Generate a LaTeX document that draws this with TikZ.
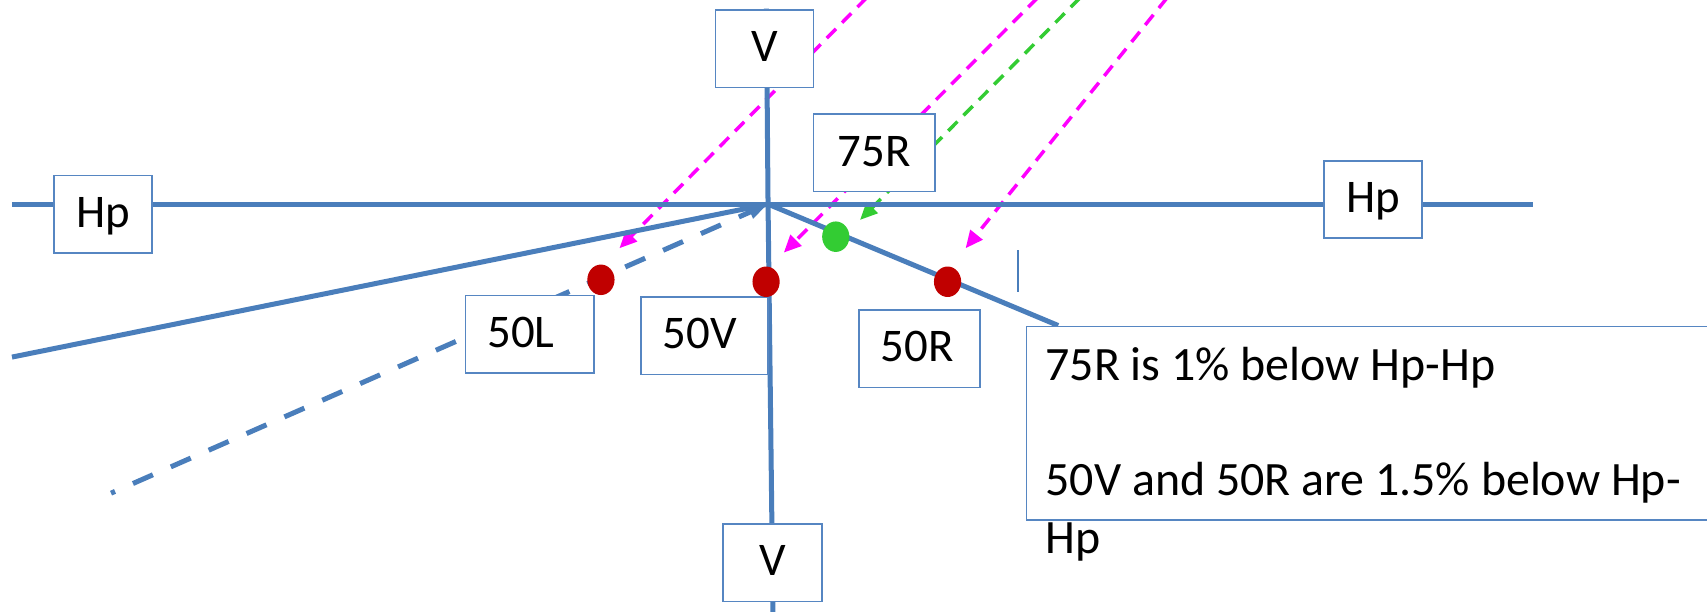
\documentclass[tikz,border=0pt]{standalone}
\usepackage{fontspec}
\setmainfont{Carlito}
\usetikzlibrary{arrows.meta,shapes.geometric}
\definecolor{axisblue}{HTML}{4A7EBB}
\definecolor{boxblue}{HTML}{5686C2}
\definecolor{raymag}{HTML}{FF00FF}
\definecolor{raygreen}{HTML}{33CC33}
\definecolor{dotred}{HTML}{C00000}
\tikzset{
  lbl/.style={draw=boxblue, line width=0.8pt, fill=white, minimum height=35.5pt,
    inner sep=0pt, text height=14pt, text depth=2pt, font=\fontsize{21.5}{26}\selectfont},
  lblleft/.style={lbl, text width=#1, align=left, inner xsep=10pt},
  axisline/.style={draw=axisblue, line width=2.3pt},
  blueDashed/.style={draw=axisblue, line width=2.3pt, dash pattern=on 10pt off 9pt,
    dash phase=8pt, -{Triangle[length=9pt,width=6pt]}},
  ray/.style={line width=1.6pt, dash pattern=on 6pt off 4pt,
    -{Triangle[length=8pt,width=7pt]}},
  dot/.style={ellipse, minimum width=12.5pt, minimum height=14pt, inner sep=0pt},
  notetext/.style={anchor=base west, inner sep=0pt, font=\fontsize{22}{26.5}\selectfont}
}
\begin{document}
\begin{tikzpicture}[x=0.5pt,y=-0.5pt]
\useasboundingbox (0,0) rectangle (1568,564);

% reference points of the axes
\coordinate (C) at (705.5,187.5);
\coordinate (hl) at (11,187.5);
\coordinate (hr) at (1408,187.5);
\coordinate (vt) at (704,8);
\coordinate (vb) at (710,562);
\coordinate (lsol) at (11,328);
\coordinate (ldash) at (102,453);
\coordinate (rend) at (972,299);
\coordinate (tickA) at (935,230);
\coordinate (tickB) at (935,268);

% incoming rays
\coordinate (m1s) at (796,-2);
\coordinate (m1e) at (569,228);
\coordinate (m2s) at (953,-2);
\coordinate (m2e) at (720,232);
\coordinate (g1s) at (992,-2);
\coordinate (g1e) at (790,202);
\coordinate (m3s) at (1072,-2);
\coordinate (m3e) at (887,228);

\draw[ray, raymag] (m1s) -- (m1e);
\draw[ray, raymag] (m2s) -- (m2e);
\draw[ray, raygreen] (g1s) -- (g1e);
\draw[ray, raymag] (m3s) -- (m3e);

% axes and cut-off lines
\draw[axisline] (hl) -- (hr);
\draw[axisline] (vt) -- (C) -- (vb);
\draw[axisline] (lsol) -- (C);
\draw[axisline] (C) -- (rend);
\draw[blueDashed] (ldash) -- (C);
\draw[draw=axisblue, line width=1pt] (tickA) -- (tickB);

% labels
\node[lbl, minimum width=45pt] (hpL) at (94.6,196.6) {Hp};
\node[lbl, minimum width=45pt] (hpR) at (1261.4,183.4) {Hp};
\node[lbl, minimum width=45pt] (vtop) at (702.3,44.9) {V};
\node[lbl, minimum width=45.5pt] (vbot) at (709.5,517) {V};
\node[lbl, minimum width=55.75pt] (b75R) at (803,140.5) {75R};
\node[lblleft=38.5pt] (b50V) at (647.2,308.5) {50V};
\node[lblleft=35.5pt] (b50R) at (844.5,320.5) {50R};
\node[lblleft=39pt] (b50L) at (486.7,307) {50L};

% note box
\node[draw=boxblue, line width=0.8pt, fill=white, anchor=north west,
  minimum width=320pt, minimum height=89pt, inner sep=0pt] (notebox) at (942,299) {};
\node[notetext] (noteA) at (960,349.5) {75R is 1\% below Hp-Hp};
\node[notetext] (noteB) at (960,455.5) {50V and 50R are 1.5\% below Hp-};
\node[notetext] (noteC) at (960,508.5) {Hp};

% measuring points
\node[dot, fill=dotred] (d50L) at (552,257) {};
\node[dot, fill=dotred] (d50V) at (703.7,258.8) {};
\node[dot, fill=raygreen] (d75R) at (767.7,217.4) {};
\node[dot, fill=dotred] (d50R) at (870.4,258.8) {};
\end{tikzpicture}
\end{document}
